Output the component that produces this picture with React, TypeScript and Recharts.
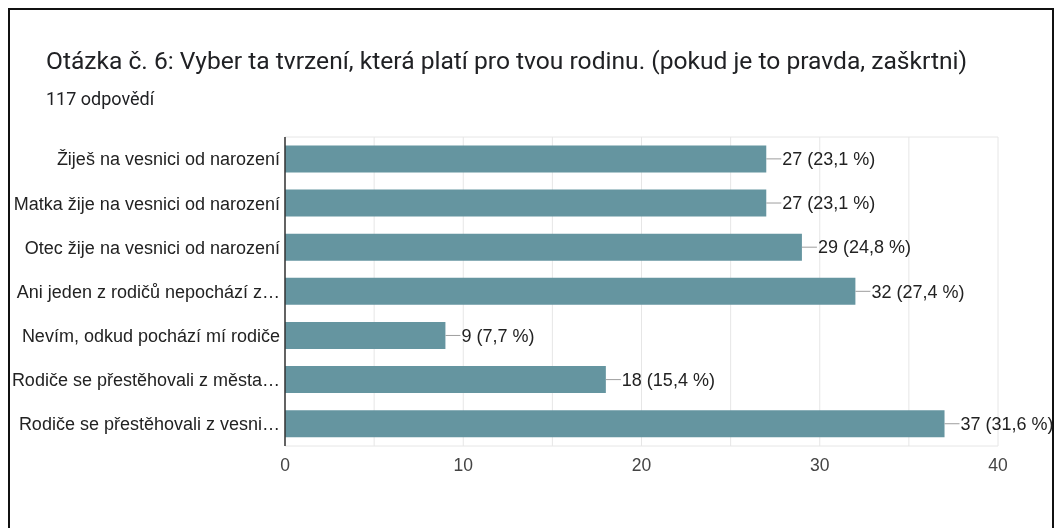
import React from "react";
import {
  Bar,
  BarChart,
  CartesianGrid,
  LabelList,
  XAxis,
  YAxis,
} from "recharts";

const categories: string[] = [
  "Žiješ na vesnici od narození",
  "Matka žije na vesnici od narození",
  "Otec žije na vesnici od narození",
  "Ani jeden z rodičů nepochází z…",
  "Nevím, odkud pochází mí rodiče",
  "Rodiče se přestěhovali z města…",
  "Rodiče se přestěhovali z vesni…",
];
const counts: number[] = [27, 27, 29, 32, 9, 18, 37];
const percents: string[] = ["23,1", "23,1", "24,8", "27,4", "7,7", "15,4", "31,6"];
const xTicks: number[] = [0, 5, 10, 15, 20, 25, 30, 35, 40];

const data = categories.map((name, i) => ({
  name,
  count: counts[i],
  label: `${counts[i]} (${percents[i]} %)`,
}));

const W = 1056;
const H = 518;
const PLOT_TOP = 137;
const PLOT_BOTTOM = 446;
const CHART_FONT = "Arial, 'Liberation Sans', sans-serif";

function BarLabel(props: any) {
  const { x, y, width, height, value } = props;
  const endX = x + width;
  const cy = y + height / 2;
  return (
    <g>
      <line x1={endX} y1={cy} x2={endX + 15} y2={cy} stroke="#9e9e9e" strokeWidth={1} />
      <text
        x={endX + 16}
        y={cy}
        dy="0.35em"
        fontSize={18}
        fill="#222"
        fontFamily={CHART_FONT}
      >
        {value}
      </text>
    </g>
  );
}

export default function App() {
  return (
    <div
      style={{
        position: "fixed",
        left: 8,
        top: 8,
        width: 1042,
        height: 540,
        border: "2px solid #111",
        fontFamily: "Roboto, Arial, sans-serif",
      }}
    >
      <div
        style={{
          position: "absolute",
          left: 36,
          top: 36,
          fontSize: 24.6,
          color: "#202124",
          whiteSpace: "nowrap",
        }}
      >
        Otázka č. 6: Vyber ta tvrzení, která platí pro tvou rodinu. (pokud je to pravda, zaškrtni)
      </div>
      <div
        style={{
          position: "absolute",
          left: 36,
          top: 78,
          fontSize: 18,
          color: "#202124",
        }}
      >
        117 odpovědí
      </div>
      <div style={{ position: "absolute", left: -10, top: -10 }}>
        <BarChart
          width={W}
          height={H}
          data={data}
          layout="vertical"
          margin={{ top: PLOT_TOP, right: 58, bottom: H - PLOT_BOTTOM - 30, left: 0 }}
          barCategoryGap="19%"
        >
          <CartesianGrid
            stroke="#e6e6e6"
            horizontalPoints={[PLOT_TOP, PLOT_BOTTOM]}
          />
          <XAxis
            type="number"
            domain={[0, 40]}
            ticks={xTicks}
            interval={0}
            height={30}
            axisLine={false}
            tickLine={false}
            tickMargin={7}
            tickFormatter={(v: number) => (v % 10 === 0 ? String(v) : "")}
            tick={{ fontSize: 17.5, fill: "#444", fontFamily: CHART_FONT }}
          />
          <YAxis
            type="category"
            dataKey="name"
            width={285}
            interval={0}
            tickLine={false}
            axisLine={{ stroke: "#333", strokeWidth: 1.5 }}
            tickMargin={-1}
            tick={{ fontSize: 18, fill: "#222", fontFamily: CHART_FONT }}
          />
          <Bar dataKey="count" fill="#6595a0" isAnimationActive={false}>
            <LabelList dataKey="label" content={BarLabel} />
          </Bar>
        </BarChart>
      </div>
    </div>
  );
}
